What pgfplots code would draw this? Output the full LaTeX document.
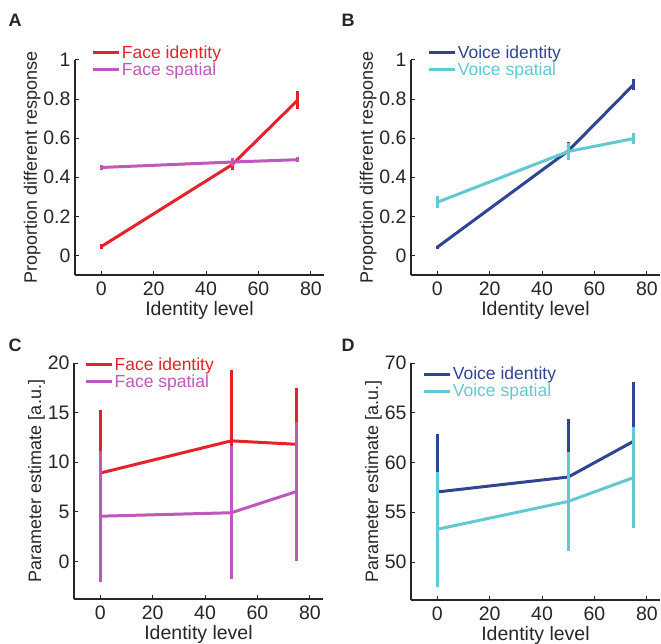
\documentclass[border=0pt]{standalone}
\usepackage{fontspec}
\setmainfont{Liberation Sans}
\usepackage{pgfplots}
\pgfplotsset{compat=1.18}

\definecolor{faceid}{RGB}{226,35,42}
\definecolor{facesp}{RGB}{190,88,186}
\definecolor{voiceid}{RGB}{48,68,148}
\definecolor{voicesp}{RGB}{98,200,210}

\pgfplotsset{
  panel/.style={
    scale only axis,
    width=249pt,
    anchor=south west,
    axis x line=bottom,
    axis y line=left,
    axis line style={-, line width=1.3pt, black!85},
    tick align=inside,
    major tick length=4pt,
    tick style={line width=1pt, black!85},
    xmin=-10, xmax=85,
    xtick={0,20,40,60,80},
    /pgf/number format/assume math mode=true,
    tick label style={font=\fontsize{19.5}{19.5}\selectfont, black!85},
    xticklabel style={yshift=-3pt},
    yticklabel style={xshift=-1pt},
    xlabel={Identity level},
    xlabel style={font=\fontsize{19.5}{19.5}\selectfont, black!85, yshift=1pt},
    ylabel style={font=\fontsize{18}{18}\selectfont, black!85, yshift=-4pt},
    legend cell align=left,
    legend style={draw=none, fill=none, anchor=north west,
      font=\fontsize{17.5}{17.5}\selectfont, inner sep=0pt,
      nodes={inner sep=1.5pt}, row sep=0pt},
    legend image code/.code={\draw[#1, line width=3pt] (0pt,0pt) -- (26pt,0pt);},
  },
  ser/.style={line width=3pt, #1, mark=none, forget plot,
    error bars/.cd, y dir=both, y explicit, error mark=none,
    error bar style={line width=3pt, #1}},
}

\begin{document}
\begin{tikzpicture}
\useasboundingbox (0pt,0pt) rectangle (661pt,643pt);

% A
\begin{axis}[panel, at={(75pt,368pt)}, height=215pt,
  ymin=-0.1, ymax=1, ytick={0,0.2,0.4,0.6,0.8,1},
  ylabel={Proportion different response},
  legend style={at={(axis description cs:0.065,1.075)}}]
\addplot[ser=faceid] table[y error=e] {
x y e
0 0.045 0.012
50 0.465 0.03
75 0.795 0.045
};
\addplot[ser=facesp] table[y error=e] {
x y e
0 0.45 0.015
50 0.478 0.022
75 0.49 0.012
};
\addlegendimage{faceid}
\addlegendentry[text=faceid]{Face identity}
\addlegendimage{facesp}
\addlegendentry[text=facesp]{Face spatial}
\end{axis}
\node[font=\fontsize{18}{18}\selectfont\bfseries, black!85] at (15pt,623pt) {A};

% B
\begin{axis}[panel, at={(411pt,368pt)}, height=215pt,
  ymin=-0.1, ymax=1, ytick={0,0.2,0.4,0.6,0.8,1},
  ylabel={Proportion different response},
  legend style={at={(axis description cs:0.065,1.075)}}]
\addplot[ser=voiceid] table[y error=e] {
x y e
0 0.042 0.008
50 0.535 0.045
75 0.875 0.027
};
\addplot[ser=voicesp] table[y error=e] {
x y e
0 0.272 0.03
50 0.532 0.045
75 0.598 0.03
};
\addlegendimage{voiceid}
\addlegendentry[text=voiceid]{Voice identity}
\addlegendimage{voicesp}
\addlegendentry[text=voicesp]{Voice spatial}
\end{axis}
\node[font=\fontsize{18}{18}\selectfont\bfseries, black!85] at (348pt,623pt) {B};

% C
\begin{axis}[panel, at={(74pt,44pt)}, height=236pt,
  ymin=-3.8, ymax=20, ytick={0,5,10,15,20},
  ylabel={Parameter estimate [a.u.]},
  legend style={at={(axis description cs:0.04,1.03)}}]
\addplot[ser=faceid] table[y error=e] {
x y e
0 8.9 6.4
50 12.15 7.15
75 11.8 5.7
};
\addplot[ser=facesp] table[y error=e] {
x y e
0 4.55 6.6
50 4.9 6.7
75 7.05 7.0
};
\addlegendimage{faceid}
\addlegendentry[text=faceid]{Face identity}
\addlegendimage{facesp}
\addlegendentry[text=facesp]{Face spatial}
\end{axis}
\node[font=\fontsize{18}{18}\selectfont\bfseries, black!85] at (15pt,298pt) {C};

% D
\begin{axis}[panel, at={(411pt,43pt)}, height=237pt,
  ymin=46.2, ymax=70, ytick={50,55,60,65,70},
  ylabel={Parameter estimate [a.u.]},
  legend style={at={(axis description cs:0.045,0.99)}}]
\addplot[ser=voiceid] table[y error=e] {
x y e
0 57.05 5.8
50 58.55 5.85
75 62.15 5.9
};
\addplot[ser=voicesp] table[y error=e] {
x y e
0 53.3 5.8
50 56.1 5.0
75 58.5 5.1
};
\addlegendimage{voiceid}
\addlegendentry[text=voiceid]{Voice identity}
\addlegendimage{voicesp}
\addlegendentry[text=voicesp]{Voice spatial}
\end{axis}
\node[font=\fontsize{18}{18}\selectfont\bfseries, black!85] at (348pt,298pt) {D};
\end{tikzpicture}
\end{document}
